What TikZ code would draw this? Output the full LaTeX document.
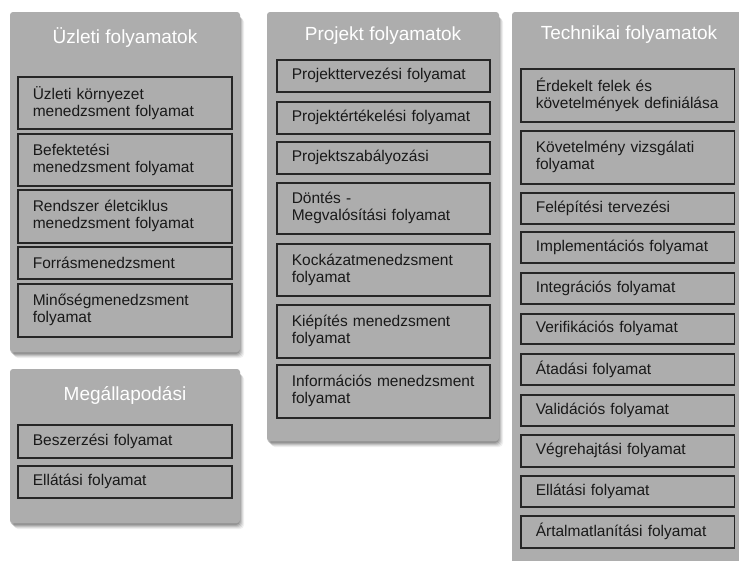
\documentclass[tikz,border=0pt]{standalone}
\usepackage{fontspec}
\setmainfont{Liberation Sans}
\begin{document}
\begin{tikzpicture}[x=1pt,y=-1pt,
  panelfill/.style={fill=panelgray, rounded corners=3pt},
  paneltitle/.style={text=white, font=\fontsize{19}{21}\selectfont, inner sep=0pt},
  procbox/.style={draw=boxline, line width=1.6pt, fill=panelgray, anchor=north west,
    inner xsep=15pt, inner ysep=0pt, text width=#1, align=left, text=black!90,
    font=\fontsize{15.5}{17}\selectfont},
]
\definecolor{panelgray}{HTML}{ADADAD}
\definecolor{boxline}{HTML}{262626}
\useasboundingbox (0,0) rectangle (739,560);
\clip (0,0) rectangle (739,560);
\fill[white] (0,0) rectangle (739,560);

% soft shadow drawn as stacked translucent rectangles
\newcommand{\softpanel}[4]{%
  \foreach \d/\o in {6/0.06,5/0.08,4/0.10,3/0.12,2/0.14}{
    \fill[black, opacity=\o, rounded corners=4pt] (#1+\d-2,#2+\d) rectangle (#3+\d-2,#4+\d);
  }
  \fill[panelfill] (#1,#2) rectangle (#3,#4);
}

\softpanel{10}{12}{240}{352}
\softpanel{10}{369}{240}{523}
\softpanel{267}{12}{499}{441}
\softpanel{512}{12}{760}{590}

% Business processes
\node[paneltitle] (t1) at (125,38) {Üzleti folyamatok};
\node[procbox=184pt, minimum height=52pt] (b11) at (17,76) {Üzleti környezet\\menedzsment folyamat};
\node[procbox=184pt, minimum height=52pt] (b12) at (17,133) {Befektetési\\menedzsment folyamat};
\node[procbox=184pt, minimum height=53pt] (b13) at (17,189) {Rendszer életciklus\\menedzsment folyamat};
\node[procbox=184pt, minimum height=32pt] (b14) at (17,246) {Forrásmenedzsment};
\node[procbox=184pt, minimum height=53pt] (b15) at (17,283) {Minőségmenedzsment\\folyamat};

% Agreement processes
\node[paneltitle] (t2) at (125,395) {Megállapodási};
\node[procbox=184pt, minimum height=33pt] (b21) at (17,424) {Beszerzési folyamat};
\node[procbox=184pt, minimum height=32pt] (b22) at (17,465) {Ellátási folyamat};

% Project processes
\node[paneltitle] (t3) at (383,36) {Projekt folyamatok};
\node[procbox=183pt, minimum height=32pt] (b31) at (276,59) {Projekttervezési folyamat};
\node[procbox=183pt, minimum height=32pt] (b32) at (276,101) {Projektértékelési folyamat};
\node[procbox=183pt, minimum height=32pt] (b33) at (276,141) {Projektszabályozási};
\node[procbox=183pt, minimum height=51pt] (b34) at (276,182) {Döntés -\\Megvalósítási folyamat};
\node[procbox=183pt, minimum height=52pt] (b35) at (276,243) {Kockázatmenedzsment\\folyamat};
\node[procbox=183pt, minimum height=53pt] (b36) at (276,304) {Kiépítés menedzsment\\folyamat};
\node[procbox=183pt, minimum height=53pt] (b37) at (276,364) {Információs menedzsment\\folyamat};

% Technical processes
\node[paneltitle] (t4) at (629,35) {Technikai folyamatok};
\node[procbox=183.5pt, minimum height=53pt] (b41) at (520,68) {Érdekelt felek és\\\mbox{követelmények definiálása}};
\node[procbox=183.5pt, minimum height=53pt] (b42) at (520,130) {Követelmény vizsgálati\\folyamat};
\node[procbox=183.5pt, minimum height=31pt] (b43) at (520,192) {Felépítési tervezési};
\node[procbox=183.5pt, minimum height=31pt] (b44) at (520,231) {Implementációs folyamat};
\node[procbox=183.5pt, minimum height=31pt] (b45) at (520,272) {Integrációs folyamat};
\node[procbox=183.5pt, minimum height=30pt] (b46) at (520,313) {Verifikációs folyamat};
\node[procbox=183.5pt, minimum height=31pt] (b47) at (520,353) {Átadási folyamat};
\node[procbox=183.5pt, minimum height=31pt] (b48) at (520,394) {Validációs folyamat};
\node[procbox=183.5pt, minimum height=32pt] (b49) at (520,434) {Végrehajtási folyamat};
\node[procbox=183.5pt, minimum height=31pt] (b410) at (520,475) {Ellátási folyamat};
\node[procbox=183.5pt, minimum height=32pt] (b411) at (520,515) {Ártalmatlanítási folyamat};
\end{tikzpicture}
\end{document}
